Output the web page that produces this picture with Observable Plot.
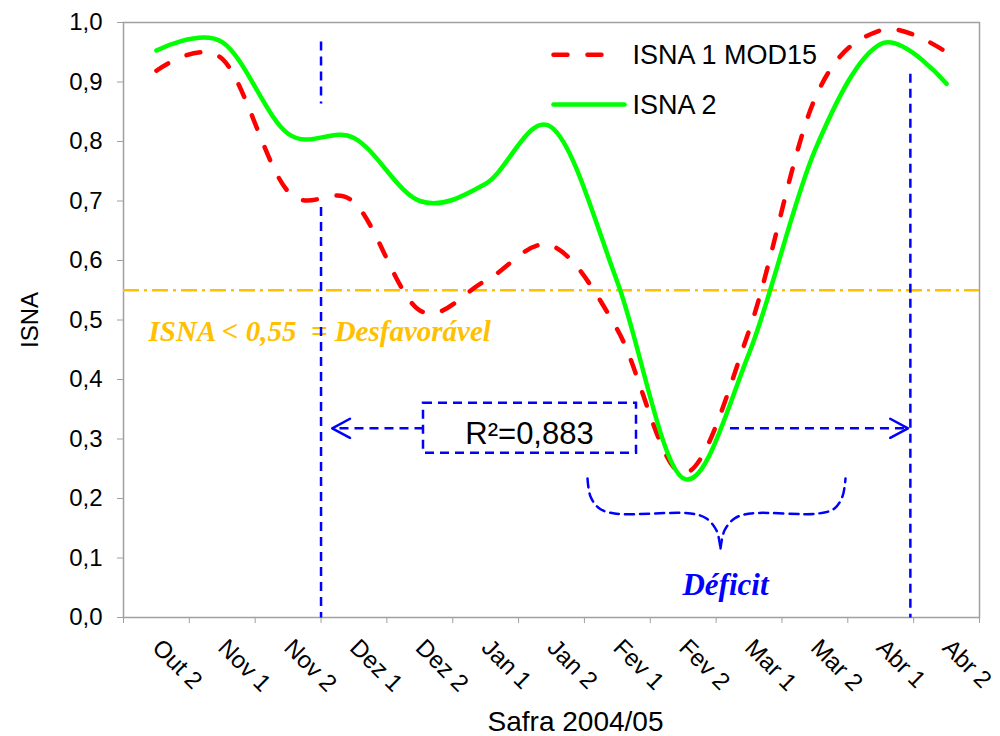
<!DOCTYPE html>
<html>
<head>
<meta charset="utf-8">
<script src="https://cdn.jsdelivr.net/npm/d3@7"></script>
<script src="https://cdn.jsdelivr.net/npm/@observablehq/plot@0.6"></script>
<style>
  html, body { margin: 0; padding: 0; background: #fff; }
  #chart { width: 1000px; height: 736px; }
</style>
</head>
<body>
<div id="chart"></div>
<script>
// ---------- data ----------
const categories = ["Out 2", "Nov 1", "Nov 2", "Dez 1", "Dez 2", "Jan 1", "Jan 2", "Fev 1", "Fev 2", "Mar 1", "Mar 2", "Abr 1", "Abr 2"];
const isna1Mod15 = [0.919, 0.939, 0.716, 0.698, 0.516, 0.566, 0.625, 0.484, 0.242, 0.482, 0.872, 0.987, 0.950];
const isna2 = [0.953, 0.967, 0.813, 0.806, 0.700, 0.729, 0.824, 0.564, 0.234, 0.444, 0.785, 0.964, 0.897];
const yTicks = [0, 0.1, 0.2, 0.3, 0.4, 0.5, 0.6, 0.7, 0.8, 0.9, 1.0];
const seriesNames = ["ISNA 1 MOD15", "ISNA 2"];
const threshold = 0.55;
const thresholdLabel = "ISNA < 0,55  = Desfavorável";
const r2Label = "R²=0,883";
const deficitLabel = "Déficit";
const xTitle = "Safra 2004/05";
const yTitle = "ISNA";

// ---------- annotation geometry (data units: category index / ISNA) ----------
const vSegments = [
  {x1: 2.5, y1: 0.968, x2: 2.5, y2: 0.864},
  {x1: 2.5, y1: 0.690, x2: 2.5, y2: 0.0},
  {x1: 11.45, y1: 0.914, x2: 11.45, y2: 0.0}
];
const box = {x1: 4.056, x2: 7.291, y1: 0.276, y2: 0.360};
const arrowY = 0.318;
const shafts = [
  {x1: 4.056, x2: 2.67, y1: arrowY, y2: arrowY},
  {x1: 8.71, x2: 11.414, y1: arrowY, y2: arrowY}
];
const headDx = 0.27, headDy = 0.016;
const heads = [
  {id: "L", tip: 2.67, dir: 1},
  {id: "R", tip: 11.414, dir: -1}
];
const headPts = heads.flatMap(h => [
  {id: h.id, x: h.tip + h.dir * headDx, y: arrowY + headDy},
  {id: h.id, x: h.tip, y: arrowY},
  {id: h.id, x: h.tip + h.dir * headDx, y: arrowY - headDy}
]);
const braceLeft = [[6.547,0.2336],[6.592,0.2034],[6.729,0.1832],[6.957,0.1748],[8.111,0.1748],[8.354,0.1664],[8.506,0.1462],[8.567,0.1160]];
const braceRight = [[8.567,0.1160],[8.627,0.1462],[8.779,0.1664],[9.022,0.1748],[10.055,0.1748],[10.298,0.1832],[10.419,0.2034],[10.465,0.2336]];
const brace = [
  ...braceLeft.map(([x, y]) => ({side: "L", x, y})),
  ...braceRight.map(([x, y]) => ({side: "R", x, y}))
];
const r2Pos = {x: 5.666, y: 0.2924};
const thresholdPos = {x: -0.12, y: 0.4655};
const deficitPos = {x: 8.642, y: 0.037};
const legendLines = [
  {name: seriesNames[0], x1: 6.03, x2: 6.881, y: 0.946, ty: 0.931},
  {name: seriesNames[1], x1: 6.03, x2: 7.109, y: 0.862, ty: 0.847}
];
const legendTextX = 7.231;

// ---------- build ----------
const boundaries = d3.range(-0.5, categories.length, 1);
const rows1 = categories.map((c, i) => ({i, v: isna1Mod15[i]}));
const rows2 = categories.map((c, i) => ({i, v: isna2[i]}));
const fmt = d => d.toFixed(1).replace(".", ",");

const BLUE = "#0000FF", RED = "#FF0000", GREEN = "#00FF00", GOLD = "#FFC000", AXIS = "#a0a0a0";
const serif = "'Liberation Serif', 'Times New Roman', serif";

const chart = Plot.plot({
  width: 1000,
  height: 736,
  marginLeft: 123,
  marginRight: 21,
  marginTop: 22,
  marginBottom: 119,
  style: {fontFamily: "'Liberation Sans', Arial, sans-serif", fontSize: "24px", color: "#000", background: "#fff"},
  x: {domain: [-0.5, categories.length - 0.5], label: null},
  y: {domain: [0, 1], label: null},
  marks: [
    Plot.frame({stroke: AXIS, strokeWidth: 1.5}),
    Plot.axisY({ticks: yTicks, tickSize: 6, tickPadding: 15, tickFormat: fmt, stroke: AXIS, fill: "#000", fontSize: 24}),
    Plot.axisX({ticks: boundaries, tickSize: 6, tickFormat: () => "", stroke: AXIS}),
    Plot.text(categories, {x: (d, i) => i, y: () => 0, text: d => d, dy: 26, rotate: 45, textAnchor: "start", lineAnchor: "middle", fontSize: 24, fill: "#000"}),
    // titles
    Plot.text([yTitle], {frameAnchor: "left", dx: -93, rotate: -90, textAnchor: "middle", lineAnchor: "middle", fontSize: 24, fill: "#000"}),
    Plot.text([xTitle], {frameAnchor: "bottom", dx: 24, dy: 113, textAnchor: "middle", lineAnchor: "bottom", fontSize: 28, fill: "#000"}),
    // threshold
    Plot.ruleY([threshold], {stroke: GOLD, strokeWidth: 2.5, strokeDasharray: "16,5,3,5"}),
    Plot.text([thresholdLabel], {x: thresholdPos.x, y: thresholdPos.y, textAnchor: "start", lineAnchor: "bottom", fill: GOLD, fontFamily: serif, fontWeight: "bold", fontStyle: "italic", fontSize: 29}),
    // blue annotations
    Plot.link(vSegments, {x1: "x1", y1: "y1", x2: "x2", y2: "y2", stroke: BLUE, strokeWidth: 2.5, strokeDasharray: "9,6"}),
    Plot.link(shafts, {x1: "x1", y1: "y1", x2: "x2", y2: "y2", stroke: BLUE, strokeWidth: 2.5, strokeDasharray: "9,6"}),
    Plot.line(headPts, {x: "x", y: "y", z: "id", stroke: BLUE, strokeWidth: 2.5}),
    Plot.rect([box], {x1: "x1", x2: "x2", y1: "y1", y2: "y2", fill: "none", stroke: BLUE, strokeWidth: 2.5, strokeDasharray: "9,6"}),
    Plot.text([r2Label], {x: r2Pos.x, y: r2Pos.y, textAnchor: "middle", lineAnchor: "bottom", fontSize: 31, fill: "#000"}),
    Plot.line(brace, {x: "x", y: "y", z: "side", curve: "catmull-rom", stroke: BLUE, strokeWidth: 2.5, strokeDasharray: "9,6"}),
    Plot.text([deficitLabel], {x: deficitPos.x, y: deficitPos.y, textAnchor: "middle", lineAnchor: "bottom", fill: BLUE, fontFamily: serif, fontWeight: "bold", fontStyle: "italic", fontSize: 31}),
    // series
    Plot.line(rows1, {x: "i", y: "v", curve: "cardinal", tension: 0, stroke: RED, strokeWidth: 4.5, strokeDasharray: "14,20", strokeLinecap: "round"}),
    Plot.line(rows2, {x: "i", y: "v", curve: "cardinal", tension: 0, stroke: GREEN, strokeWidth: 4.5, strokeLinecap: "round"}),
    // legend
    Plot.link(legendLines.slice(0, 1), {x1: "x1", x2: "x2", y1: "y", y2: "y", stroke: RED, strokeWidth: 4.5, strokeDasharray: "14,20", strokeLinecap: "round"}),
    Plot.link(legendLines.slice(1), {x1: "x1", x2: "x2", y1: "y", y2: "y", stroke: GREEN, strokeWidth: 4.5, strokeLinecap: "round"}),
    Plot.text(legendLines, {x: legendTextX, y: "ty", text: "name", textAnchor: "start", lineAnchor: "bottom", fontSize: 27, fill: "#000"})
  ]
});
document.getElementById("chart").appendChild(chart);
</script>
</body>
</html>
